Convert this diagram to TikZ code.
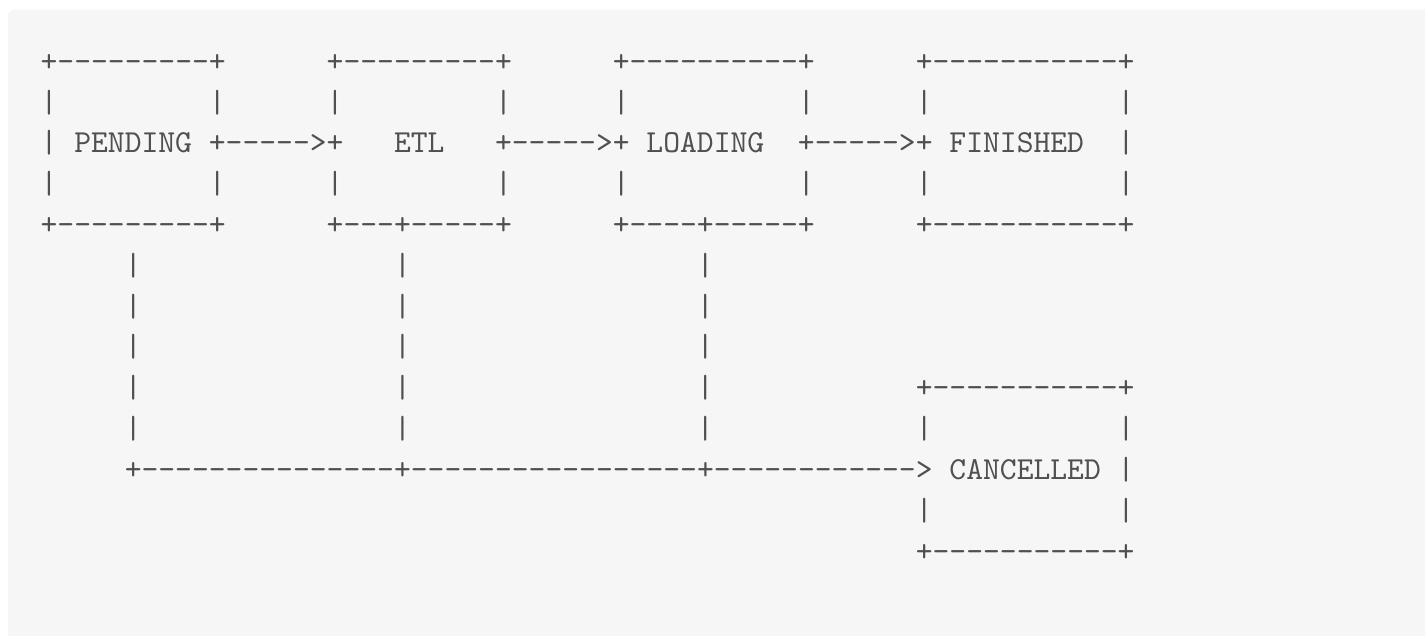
\documentclass[tikz,border=0pt]{standalone}
\usepackage{fontspec}
\setmonofont{lmmono10-regular}[Extension=.otf,Ligatures=TeXOff]
\definecolor{panel}{HTML}{F6F6F6}
\definecolor{ink}{HTML}{505050}
% character grid: column width, line height, origin of column 0 / row 0 baseline
\newcommand\cw{16.83}
\newcommand\lh{40.8}
\newcommand\xo{40.6}
\newcommand\yo{71.4}
% \seg{row}{column}{characters}
\newcommand\seg[3]{\node[asc] (r#1c#2) at ({\xo+\cw*#2},{\yo+\lh*#1}) {#3};}
\begin{document}
\begin{tikzpicture}[x=1pt,y=-1pt,
  asc/.style={anchor=base west,inner sep=0pt,outer sep=0pt,text=ink,
    font=\ttfamily\fontsize{32.06}{40.8}\selectfont}]
\useasboundingbox (0,0) rectangle (1425,636);
\fill[white] (0,0) rectangle (1425,636);
\fill[panel,rounded corners=6pt] (8,10) rectangle (1445,660);

% row 0: box tops
\seg{0}{0}{+---------+}
\seg{0}{17}{+---------+}
\seg{0}{34}{+----------+}
\seg{0}{52}{+-----------+}
% row 1
\foreach \c in {0,10,17,27,34,45,52,64} {\seg{1}{\c}{|}}
% row 2: state names and forward arrows
\seg{2}{0}{|}
\seg{2}{2}{PENDING}
\seg{2}{10}{+----->+}
\seg{2}{21}{ETL}
\seg{2}{27}{+----->+}
\seg{2}{36}{LOADING}
\seg{2}{45}{+----->+}
\seg{2}{54}{FINISHED}
\seg{2}{64}{|}
% row 3
\foreach \c in {0,10,17,27,34,45,52,64} {\seg{3}{\c}{|}}
% row 4: box bottoms with branch points
\seg{4}{0}{+---------+}
\seg{4}{17}{+---+-----+}
\seg{4}{34}{+----+-----+}
\seg{4}{52}{+-----------+}
% rows 5-9: drop lines to the cancel path
\foreach \r in {5,6,7,8,9} {\foreach \c in {5,21,39} {\seg{\r}{\c}{|}}}
\seg{8}{52}{+-----------+}
\seg{9}{52}{|}
\seg{9}{64}{|}
% row 10: collecting line into CANCELLED
\seg{10}{5}{+---------------+-----------------+------------>}
\seg{10}{54}{CANCELLED}
\seg{10}{64}{|}
% rows 11-12
\seg{11}{52}{|}
\seg{11}{64}{|}
\seg{12}{52}{+-----------+}
\end{tikzpicture}
\end{document}
